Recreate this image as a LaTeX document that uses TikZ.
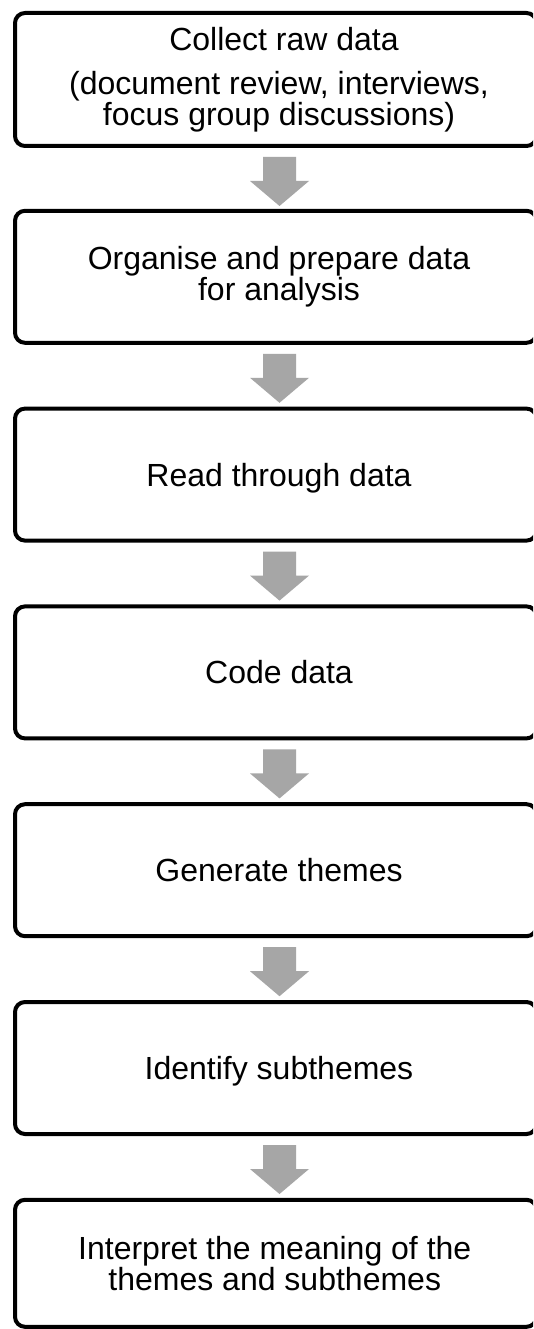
\documentclass[tikz,border=0pt]{standalone}
\usepackage{fontspec}
\setmainfont{Liberation Sans}
\usetikzlibrary{calc}
\definecolor{arrowgray}{HTML}{A6A6A6}
\tikzset{
  stepbox/.style={draw=black, line width=4pt, rounded corners=10pt, fill=white,
    minimum width=521.5pt, minimum height=132pt, anchor=north west, inner sep=0pt},
  steptext/.style={align=center, font=\fontsize{32}{31}\selectfont, text=black, inner sep=0pt},
  oneline/.style={steptext, text height=23pt, text depth=0pt},
  arrowfill/.style={fill=arrowgray}
}
\newcommand\blockarrow[1]{%
  \fill[arrowfill] (#1) ++(-16.5,0) -- ++(33,0) -- ++(0,24) -- ++(13,0)
    -- ++(-29.5,25) -- ++(-29.5,-25) -- ++(13,0) -- cycle;}
\begin{document}
\begin{tikzpicture}[x=1pt,y=-1pt]
\useasboundingbox (0,0) rectangle (533,1329);
\clip (0,0) rectangle (533,1329);
\fill[white] (0,0) rectangle (533,1329);
\node[stepbox, minimum height=133pt] (b1) at (13,11) {};
\node[stepbox] (b2) at (13,208.8) {};
\node[stepbox] (b3) at (13,406.6) {};
\node[stepbox] (b4) at (13,604.4) {};
\node[stepbox] (b5) at (13,802.2) {};
\node[stepbox] (b6) at (13,1000) {};
\node[stepbox, minimum height=127pt] (b7) at (13,1197.8) {};
\node[steptext] (t1) at ($(b1.center)+(3.25,0)$) {\hspace{10pt}Collect raw data\\[13pt](document review, interviews,\\focus group discussions)};
\node[steptext] (t2) at ($(b2.center)+(3.25,0)$) {Organise and prepare data\\for analysis};
\node[oneline] (t3) at ($(b3.center)+(3.25,0)$) {Read through data};
\node[oneline] (t4) at ($(b4.center)+(3.25,0)$) {Code data};
\node[oneline] (t5) at ($(b5.center)+(3.25,0)$) {Generate themes};
\node[oneline] (t6) at ($(b6.center)+(3.25,0)$) {Identify subthemes};
\node[steptext] (t7) at ($(b7.center)+(-1,0)$) {Interpret the meaning of the\\themes and subthemes};
\foreach \i in {1,...,6}{
  \coordinate (a\i) at ($(b\i.south)+(3.75,9)$);
  \blockarrow{a\i}
}
\end{tikzpicture}
\end{document}
